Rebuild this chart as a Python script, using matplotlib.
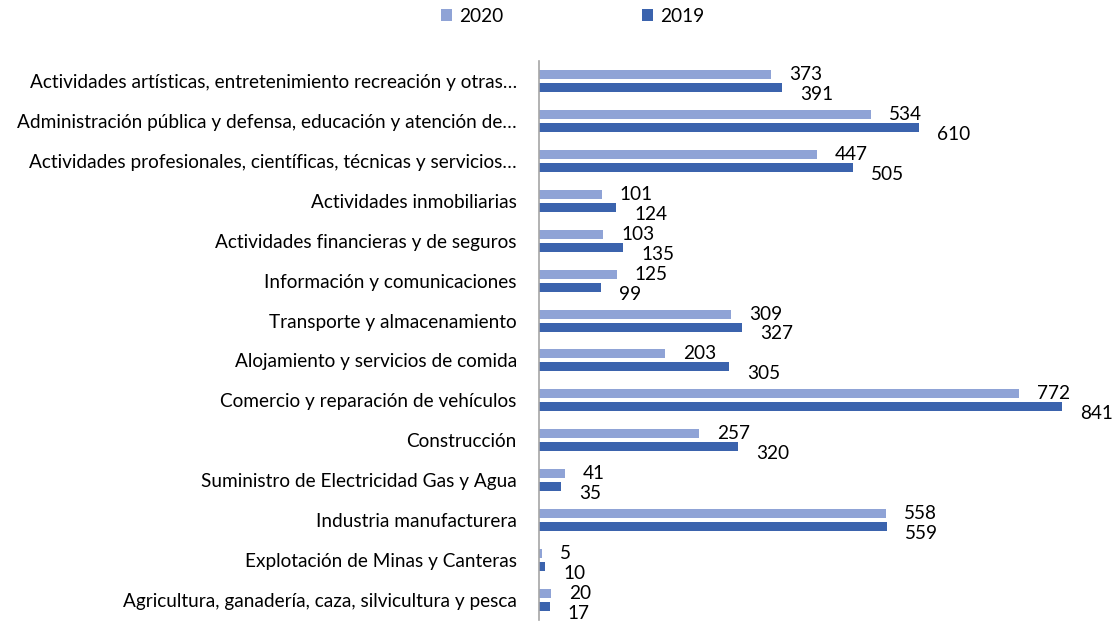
import matplotlib
matplotlib.use("Agg")
import matplotlib.pyplot as plt
import numpy as np

categories = [
    "Agricultura, ganadería, caza, silvicultura y pesca",
    "Explotación de Minas y Canteras",
    "Industria manufacturera",
    "Suministro de Electricidad Gas y Agua",
    "Construcción",
    "Comercio y reparación de vehículos",
    "Alojamiento y servicios de comida",
    "Transporte y almacenamiento",
    "Información y comunicaciones",
    "Actividades financieras y de seguros",
    "Actividades inmobiliarias",
    "Actividades profesionales, científicas, técnicas y servicios…",
    "Administración pública y defensa, educación y atención de…",
    "Actividades artísticas, entretenimiento recreación y otras…",
]
v2020 = [20, 5, 558, 41, 257, 772, 203, 309, 125, 103, 101, 447, 534, 373]
v2019 = [17, 10, 559, 35, 320, 841, 305, 327, 99, 135, 124, 505, 610, 391]
series_names = ["2020", "2019"]

c2020 = "#8FA3D6"
c2019 = "#3B63AD"

plt.rcParams['font.family'] = ['Lato', 'DejaVu Sans']
FS = 13.7

W, H = 1113, 624
fig = plt.figure(figsize=(W / 100, H / 100), dpi=100)
ax = fig.add_axes([539 / W, 4 / H, (1099 - 539) / W, (620 - 61) / H])

y = np.arange(len(categories))
off = 0.163
h = 0.225
b1 = ax.barh(y + off, v2020, height=h, color=c2020, label=series_names[0])
b2 = ax.barh(y - off, v2019, height=h, color=c2019, label=series_names[1])

for yi, v in zip(y, v2020):
    ax.annotate(str(v), xy=(v, yi + off), xytext=(13, 0), textcoords="offset points",
                ha="left", va="center", fontsize=FS, color="#000000", annotation_clip=False)
for yi, v in zip(y, v2019):
    ax.annotate(str(v), xy=(v, yi - off), xytext=(13, -5), textcoords="offset points",
                ha="left", va="center", fontsize=FS, color="#000000", annotation_clip=False)

ax.set_xlim(0, 900)
ax.set_ylim(-0.5, len(categories) - 0.5)
ax.set_yticks(y)
ax.set_yticklabels(categories, fontsize=FS)
ax.tick_params(axis="y", length=0, pad=16)
ax.set_xticks([])
for s in ["top", "right", "bottom"]:
    ax.spines[s].set_visible(False)
ax.spines["left"].set_color("#A6A6A6")
ax.spines["left"].set_linewidth(1.2)

fig.legend(handles=[b1, b2], labels=series_names, loc="center", bbox_to_anchor=(573 / W, 1 - 16 / H),
           ncol=2, frameon=False, fontsize=FS, handlelength=0.55, handleheight=0.55,
           handletextpad=0.4, columnspacing=7.3)

fig.savefig("out.png", dpi=100)
